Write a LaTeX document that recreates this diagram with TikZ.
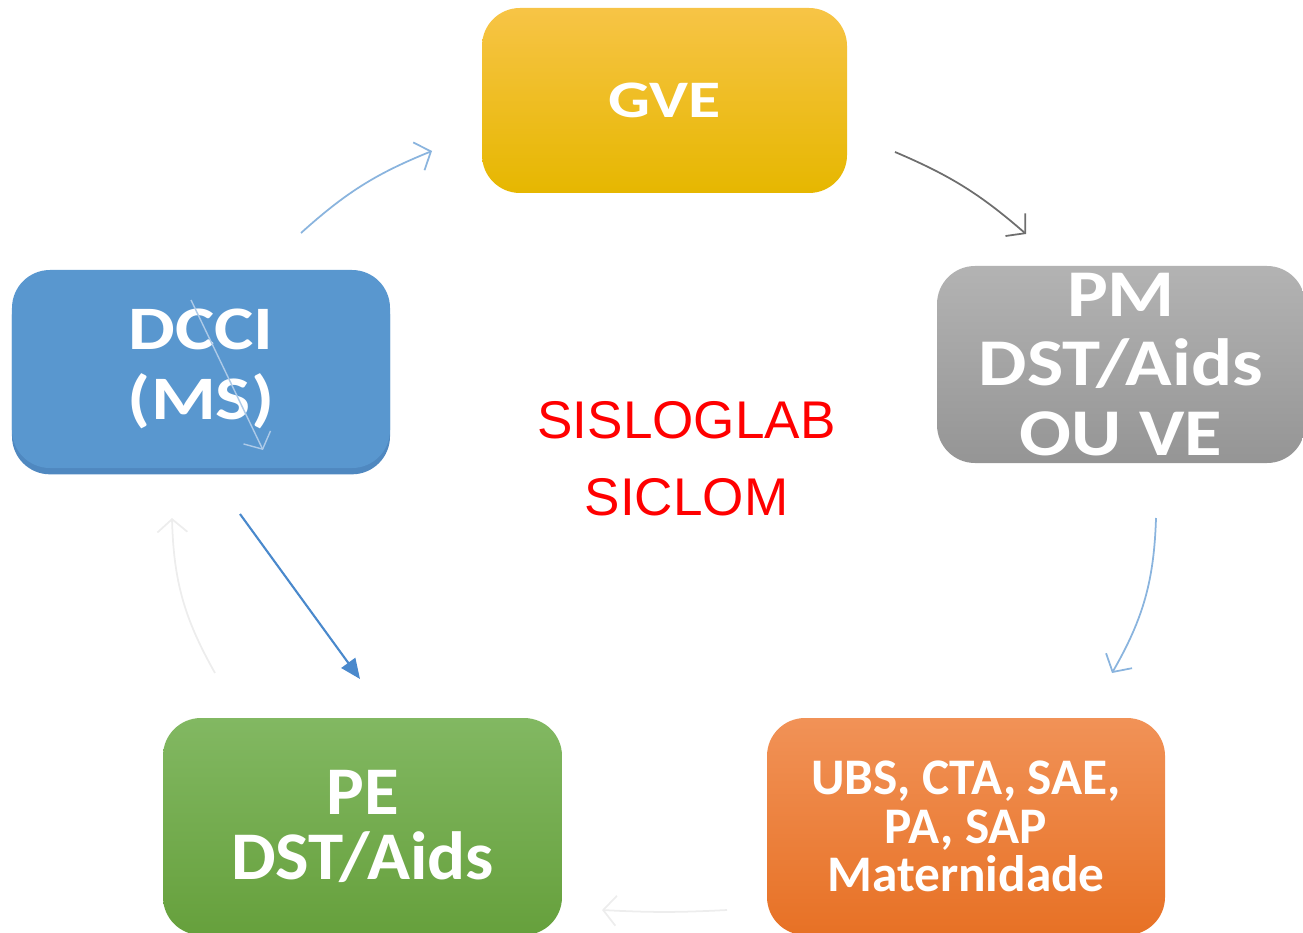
\documentclass[tikz,border=0pt]{standalone}
\usepackage{fontspec}
\setmainfont{Liberation Sans}
\newfontfamily\boxfont{Carlito}
\usetikzlibrary{arrows.meta,shadings}

\definecolor{gveTop}{HTML}{F7C446}
\definecolor{gveMid}{HTML}{F6C300}
\definecolor{gveBot}{HTML}{E6B700}
\definecolor{dcciFill}{HTML}{5997CF}
\definecolor{dcciRim}{HTML}{4F88C0}
\definecolor{pmTop}{HTML}{B3B3B3}
\definecolor{pmBot}{HTML}{959595}
\definecolor{ubsTop}{HTML}{F19257}
\definecolor{ubsBot}{HTML}{E77125}
\definecolor{peTop}{HTML}{82B862}
\definecolor{peBot}{HTML}{66A03C}
\definecolor{arrBlue}{HTML}{8AB4DE}
\definecolor{arrDark}{HTML}{4A89CC}
\definecolor{arrGray}{HTML}{6E6E6E}
\definecolor{arrFaint}{HTML}{EDEDED}

% testo dei riquadri: corpo, interlinea, allargamento
\newcommand{\testobox}[3]{\boxfont\bfseries\addfontfeature{FakeStretch=#3}\fontsize{#1}{#2}\selectfont}

\tikzset{
  blocco/.style={rounded corners=0.38cm, inner sep=0pt, align=center, text=white},
  freccia/.style={line width=0.5pt, -{Straight Barb[length=1.3mm,width=3mm]}}
}

\begin{document}
\begin{tikzpicture}
        \useasboundingbox (0,0) rectangle (13.03,9.32);
        \clip (0,0) rectangle (13.03,9.32);

        % Riquadri
        \node[blocco, minimum width=3.65cm, minimum height=1.85cm,
              top color=gveTop, middle color=gveMid, bottom color=gveBot,
              font=\testobox{15}{17}{1.25}]
              (gve) at (6.645,8.315) {GVE};

        \node[blocco, minimum width=3.78cm, minimum height=1.98cm, fill=dcciFill,
              preaction={fill=dcciRim, transform canvas={yshift=-1.8pt}},
              font=\testobox{17.6}{19.9}{1.2}]
              (dcci) at (2.01,5.63) {DCCI\\(MS)};

        \node[blocco, minimum width=3.68cm, minimum height=1.97cm,
              top color=pmTop, bottom color=pmBot,
              font=\testobox{19}{19.8}{1.15}]
              (pm) at (11.21,5.675) {PM\\DST/Aids\\OU VE};

        \node[blocco, minimum width=3.98cm, minimum height=2.17cm,
              top color=ubsTop, bottom color=ubsBot,
              font=\testobox{14.6}{13.8}{1.0}]
              (ubs) at (9.66,1.055) {UBS, CTA, SAE,\\PA, SAP\\Maternidade};

        \node[blocco, minimum width=3.99cm, minimum height=2.17cm,
              top color=peTop, bottom color=peBot,
              font=\testobox{19.4}{18.5}{1.04}]
              (pe) at (3.625,1.055) {PE\\DST/Aids};

        % Testo centrale
        \node[text=red, align=center, font=\fontsize{15.1}{21.9}\selectfont]
              (sis) at (6.865,4.735) {SISLOGLAB\\SICLOM};

        % Estremi delle frecce
        \coordinate (a1) at (3.01,6.99);   \coordinate (b1) at (4.32,7.81);
        \coordinate (a2) at (8.95,7.80);   \coordinate (b2) at (10.26,6.98);
        \coordinate (a3) at (11.56,4.14);  \coordinate (b3) at (11.12,2.59);
        \coordinate (a4) at (7.27,0.22);   \coordinate (b4) at (6.02,0.22);
        \coordinate (a5) at (2.15,2.59);   \coordinate (b5) at (1.72,4.14);
        \coordinate (a6) at (2.40,4.18);   \coordinate (b6) at (3.60,2.53);
        \coordinate (a7) at (1.91,6.32);   \coordinate (b7) at (2.63,4.82);

        % Frecce del ciclo
        \draw[freccia, arrBlue] (a1) to[bend left=10] (b1);
        \draw[freccia, arrGray] (a2) to[bend left=9] (b2);
        \draw[freccia, arrBlue] (a3) to[bend left=14] (b3);
        \draw[freccia, arrFaint] (a4) to[bend left=3] (b4);
        \draw[freccia, arrFaint] (a5) to[bend left=14] (b5);
        \draw[line width=0.6pt, arrDark, -{Triangle[length=2mm,width=1.7mm]}] (a6) -- (b6);
        \draw[freccia, arrBlue!70, line width=0.4pt] (a7) -- (b7);
    \end{tikzpicture}
\end{document}
